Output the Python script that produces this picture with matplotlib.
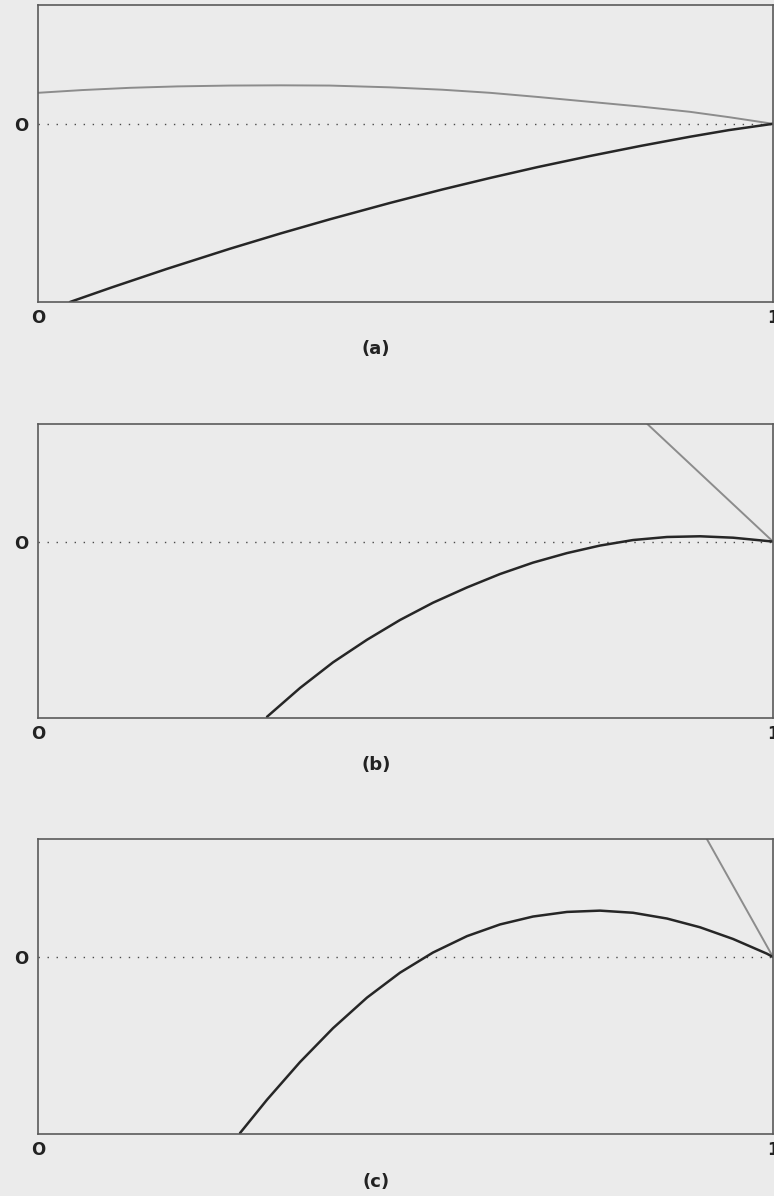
import numpy as np
import matplotlib

# Use non-GUI backend
matplotlib.use("Agg")

import matplotlib.pyplot as plt

# ----- data (x in [0, 1], y relative to the zero line) -----
# panel (a)
a_gray_x = [0.0, 0.06, 0.125, 0.19, 0.261, 0.33, 0.397, 0.479, 0.55, 0.615,
            0.68, 0.751, 0.82, 0.887, 0.94, 1.0]
a_gray_y = [0.261, 0.284, 0.303, 0.315, 0.322, 0.324, 0.322, 0.307, 0.287, 0.261,
            0.226, 0.185, 0.145, 0.101, 0.056, 0.0]
a_black_x = [0.0435, 0.10, 0.175, 0.261, 0.33, 0.397, 0.479, 0.55, 0.615, 0.68,
             0.751, 0.82, 0.887, 0.94, 1.0]
a_black_y = [-1.50, -1.378, -1.222, -1.052, -0.923, -0.804, -0.666, -0.553, -0.456,
             -0.364, -0.271, -0.186, -0.109, -0.053, 0.0]

# panel (b)
b_gray_x = [0.829, 1.0]
b_gray_y = [1.0, 0.0]
b_black_x = [0.3116, 0.3565, 0.4014, 0.4476, 0.4925, 0.5374, 0.5837, 0.6286,
             0.6735, 0.7197, 0.7646, 0.8095, 0.8558, 0.9007, 0.9456, 1.0]
b_black_y = [-1.49, -1.245, -1.027, -0.835, -0.667, -0.520, -0.390, -0.276,
             -0.179, -0.098, -0.034, 0.013, 0.039, 0.045, 0.033, 0.0]

# panel (c)
c_gray_x = [0.910, 1.0]
c_gray_y = [1.0, 0.0]
c_black_x = [0.2748, 0.3116, 0.3565, 0.4014, 0.4476, 0.4925, 0.5374, 0.5837, 0.6286,
             0.6735, 0.7197, 0.7646, 0.8095, 0.8558, 0.9007, 0.9456, 0.9918, 1.0]
c_black_y = [-1.492, -1.209, -0.890, -0.603, -0.344, -0.133, 0.038, 0.177, 0.276,
             0.343, 0.382, 0.393, 0.375, 0.326, 0.252, 0.153, 0.028, 0.0]

captions = ["(a)", "(b)", "(c)"]
x_ticks = [0, 1]
x_tick_labels = ["O", "1"]
y_ticks = [0]
y_tick_labels = ["O"]

BG = "#ebebeb"
SPINE = "#5a5a5a"


def main():
    fig = plt.figure(figsize=(7.74, 11.96), dpi=100, facecolor=BG)

    # axes rectangles in figure fractions (left, bottom, width, height)
    rects = [
        (0.0491, 0.7475, 0.9496, 0.2483),
        (0.0491, 0.3997, 0.9496, 0.2458),
        (0.0491, 0.0518, 0.9496, 0.2467),
    ]
    caption_y = [0.7082, 0.3604, 0.0117]
    panels = [
        (a_gray_x, a_gray_y, a_black_x, a_black_y),
        (b_gray_x, b_gray_y, b_black_x, b_black_y),
        (c_gray_x, c_gray_y, c_black_x, c_black_y),
    ]

    for rect, (gx, gy, bx, by), cap, cy in zip(rects, panels, captions, caption_y):
        ax = fig.add_axes(rect, facecolor=BG)
        ax.axhline(0, color="#4a4a4a", lw=1.0, linestyle=(0, (1, 5.5)))
        ax.plot(gx, gy, color="#8c8c8c", lw=1.4,
                solid_capstyle="round", solid_joinstyle="round")
        ax.plot(bx, by, color="#262626", lw=1.8,
                solid_capstyle="round", solid_joinstyle="round")

        ax.set_xlim(0, 1)
        ax.set_ylim(-1.5, 1.0)
        ax.set_xticks(x_ticks)
        ax.set_xticklabels(x_tick_labels)
        ax.set_yticks(y_ticks)
        ax.set_yticklabels(y_tick_labels)
        ax.tick_params(length=0, colors="#222222", labelsize=12)
        ax.tick_params(axis="x", pad=5)
        ax.tick_params(axis="y", pad=7)
        for lab in ax.get_xticklabels() + ax.get_yticklabels():
            lab.set_fontweight("bold")
        for s in ax.spines.values():
            s.set_color(SPINE)
            s.set_linewidth(1.2)

        fig.text(0.486, cy, cap, ha="center", va="center",
                 fontsize=13, fontweight="bold", color="#222222")

    fig.savefig("out.png", dpi=100, facecolor=BG)


if __name__ == "__main__":
    main()
